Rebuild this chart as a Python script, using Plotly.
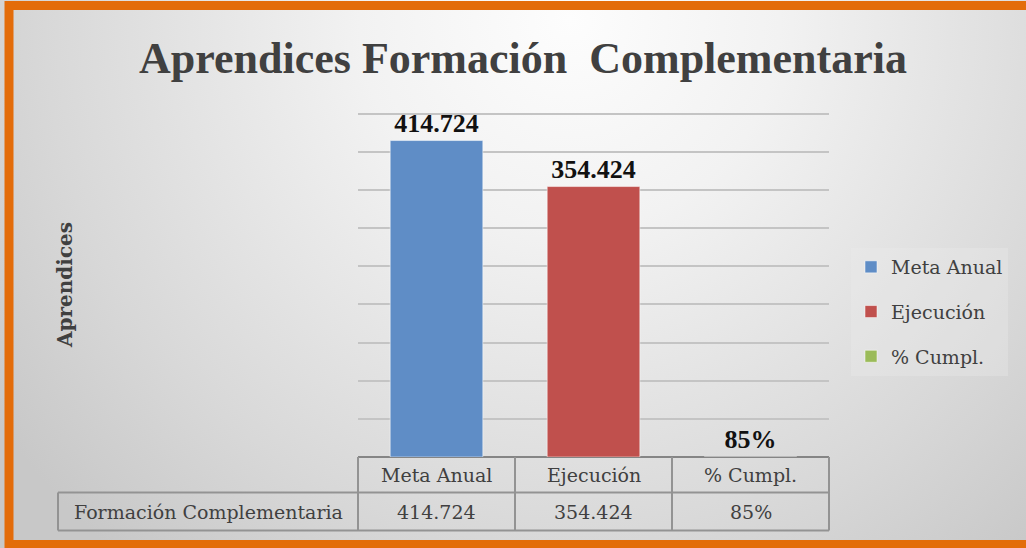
import base64

import plotly.graph_objects as go

# Datos
CATEGORIAS = ["Meta Anual", "Ejecución", "% Cumpl."]
VALORES = [414724, 354424, 0.85]
FILA_TABLA = "Formación Complementaria"
COLORES = ["#5F8DC6", "#C0504D", "#9BBB59"]
TITULO = "Aprendices Formación  Complementaria"
EJE_Y = "Aprendices"

W, H = 1026, 548
L, R, T, B = 358, 829, 106, 457  # área de trazado en píxeles
SERIF = "DejaVu Serif"
SERIF_B = "Liberation Serif"
GRIS_TXT = "#404040"


def px_x(x):
    return (x - L) / (R - L)


def px_y(y):
    return (B - y) / (B - T)


def formato(v):
    if v < 1:
        return f"{v:.0%}"
    return f"{v:,}".replace(",", ".")


# fondo degradado (radial, claro arriba al centro)
svg = (
    f'<svg xmlns="http://www.w3.org/2000/svg" width="{W}" height="{H}">'
    '<defs><radialGradient id="g" cx="570" cy="20" r="700" gradientUnits="userSpaceOnUse">'
    '<stop offset="0" stop-color="#fdfdfd"/><stop offset="0.3" stop-color="#f2f2f2"/>'
    '<stop offset="0.75" stop-color="#d8d8d8"/>'
    '<stop offset="1" stop-color="#c8c8c8"/></radialGradient></defs>'
    f'<rect width="{W}" height="{H}" fill="url(#g)"/></svg>'
)
fondo = "data:image/svg+xml;base64," + base64.b64encode(svg.encode()).decode()

fig = go.Figure()
for cat, val, col in zip(CATEGORIAS, VALORES, COLORES):
    fig.add_trace(go.Bar(
        x=[cat], y=[val], name=cat, legendgroup=cat,
        marker=dict(color=col, line=dict(color="rgba(255,255,255,0.5)", width=1)),
        width=0.59,
        text=[formato(val)], textposition="outside", constraintext="none",
        cliponaxis=False,
        outsidetextfont=dict(family=SERIF_B, size=26, color="#111111", weight="bold"),
    ))

fig.update_layout(
    width=W, height=H,
    margin=dict(l=L, r=W - R, t=T, b=H - B),
    paper_bgcolor="white", plot_bgcolor="rgba(0,0,0,0)",
    barmode="overlay",
    title=dict(text=TITULO, x=523 / W, xanchor="center", y=1 - 58 / H, yanchor="middle",
               font=dict(family=SERIF_B, size=44, color=GRIS_TXT, weight="bold")),
    legend=dict(x=px_x(851), y=px_y(248), xanchor="left", yanchor="top",
                bgcolor="rgba(236,236,236,0.35)", traceorder="grouped", tracegroupgap=17,
                font=dict(family=SERIF, size=19, color=GRIS_TXT)),
    showlegend=True,
    images=[dict(source=fondo, xref="paper", yref="paper", x=px_x(0), y=px_y(0),
                 sizex=W / (R - L), sizey=H / (B - T), sizing="stretch",
                 xanchor="left", yanchor="top", layer="below")],
)
fig.update_yaxes(range=[0, 460000], dtick=50000, showticklabels=False,
                 gridcolor="#c4c4c4", gridwidth=2,
                 zeroline=True, zerolinecolor="#858585", zerolinewidth=2)
fig.update_xaxes(showticklabels=False, showgrid=False, showline=False)

# tabla de datos bajo el gráfico
linea = dict(color="#939393", width=2)
fila1, fila2, fila3 = px_y(457), px_y(492.5), px_y(530.5)
n = len(CATEGORIAS)
formas = [
    dict(type="line", xref="paper", yref="paper", x0=px_x(58), x1=1, y0=fila2, y1=fila2, line=linea),
    dict(type="line", xref="paper", yref="paper", x0=px_x(58), x1=1, y0=fila3, y1=fila3, line=linea),
    dict(type="line", xref="paper", yref="paper", x0=px_x(58), x1=px_x(58), y0=fila2, y1=fila3, line=linea),
]
for i in range(n + 1):
    formas.append(dict(type="line", xref="paper", yref="paper", x0=i / n, x1=i / n,
                       y0=fila1, y1=fila3, line=linea))
# marco naranja
formas.append(dict(type="rect", xref="paper", yref="paper", x0=px_x(9), x1=px_x(1040),
                   y0=px_y(5.5), y1=px_y(544.5), line=dict(color="#E36C0A", width=9),
                   fillcolor="rgba(0,0,0,0)", layer="above"))
fig.update_layout(shapes=formas)

fuente_tabla = dict(family=SERIF, size=19, color=GRIS_TXT)
centro = dict(showarrow=False, xanchor="center", yanchor="middle")
for cat, val in zip(CATEGORIAS, VALORES):
    fig.add_annotation(x=cat, xref="x", y=(fila1 + fila2) / 2, yref="paper", text=cat,
                       font=fuente_tabla, **centro)
    fig.add_annotation(x=cat, xref="x", y=(fila2 + fila3) / 2, yref="paper", text=formato(val),
                       font=fuente_tabla, **centro)
fig.add_annotation(x=px_x(208), xref="paper", y=(fila2 + fila3) / 2, yref="paper",
                   text=FILA_TABLA, font=fuente_tabla, **centro)
fig.add_annotation(x=px_x(65), xref="paper", y=px_y(285), yref="paper", text=EJE_Y,
                   textangle=-90, font=dict(family=SERIF, size=20, color=GRIS_TXT, weight="bold"),
                   **centro)

fig.write_html("out.html", config={"displayModeBar": False},
               post_script="document.body.style.margin='0';")
